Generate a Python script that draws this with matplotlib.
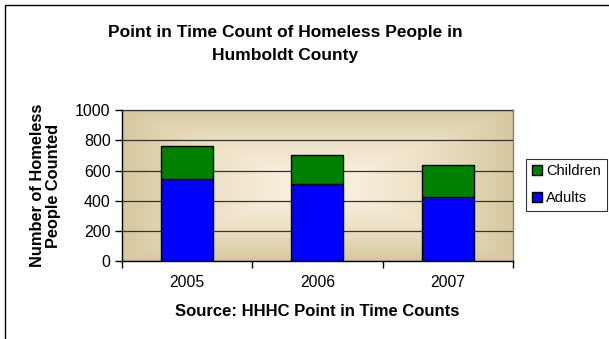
import numpy as np
import matplotlib
matplotlib.use("Agg")
import matplotlib.pyplot as plt
from matplotlib.patches import Rectangle

plt.rcParams['font.family'] = ['Liberation Sans', 'DejaVu Sans']

years = ["2005", "2006", "2007"]
adults = [546, 513, 427]
children = [218, 192, 209]

fig = plt.figure(figsize=(6.09, 3.39), dpi=100)

# outer frame of the chart area
fig.patches.append(Rectangle((5 / 609, -0.5), 2.0, 1.5 - 5 / 339,
                             transform=fig.transFigure, fill=False,
                             edgecolor='black', linewidth=1.0))

ax = fig.add_axes([0.1998, 0.2292, 0.6425, 0.4463])

# beige "from centre" gradient behind the plot
nx, ny = 200, 100
gx = np.linspace(-1, 1, nx)
gy = np.linspace(-1, 1, ny)
X, Y = np.meshgrid(gx, gy)
t = np.clip(np.maximum(np.abs(X) ** 1.6, np.abs(Y) ** 1.6), 0, 1)
c_in = np.array([250, 241, 222]) / 255
c_out = np.array([214, 199, 158]) / 255
img = c_in[None, None, :] * (1 - t[..., None]) + c_out[None, None, :] * t[..., None]
ax.imshow(img, extent=[-0.5, 2.5, 0, 1000], aspect='auto', zorder=0,
          interpolation='bilinear')

x = np.arange(len(years))
ax.bar(x, adults, width=0.4, color='#0000FF', edgecolor='black',
       linewidth=1.0, label='Adults', zorder=3)
ax.bar(x, children, width=0.4, bottom=adults, color='#008000',
       edgecolor='black', linewidth=1.0, label='Children', zorder=3)

ax.set_xlim(-0.5, 2.5)
ax.set_ylim(0, 1000)
ax.set_yticks(range(0, 1001, 200))
ax.yaxis.grid(True, color='#333333', linewidth=0.9, zorder=1)
ax.set_axisbelow(False)

ax.set_xticks([-0.5, 0.5, 1.5, 2.5])
ax.set_xticklabels([])
ax.set_xticks(x, minor=True)
ax.set_xticklabels(years, minor=True)
ax.tick_params(axis='x', which='minor', length=0, pad=10, labelsize=11.3)
ax.tick_params(axis='x', which='major', length=5, direction='out', width=1)
ax.tick_params(axis='y', length=5, direction='out', width=1, labelsize=11.5, pad=3)

for s in ['top', 'right']:
    ax.spines[s].set_color('#808080')
    ax.spines[s].set_linewidth(1.0)
for s in ['left', 'bottom']:
    ax.spines[s].set_color('black')
    ax.spines[s].set_linewidth(1.0)

ax.set_ylabel("Number of Homeless\nPeople Counted", fontsize=11.8,
              fontweight='bold', labelpad=10, linespacing=1.12)
ax.set_xlabel("Source: HHHC Point in Time Counts", fontsize=12,
              fontweight='bold', labelpad=10)

fig.text(285 / 609, 1 - 44 / 339,
         "Point in Time Count of Homeless People in\nHumboldt County",
         ha='center', va='center', fontsize=12.5, fontweight='bold',
         linespacing=1.6)

handles, labels = ax.get_legend_handles_labels()
leg = fig.legend(handles[::-1], labels[::-1], loc='upper left',
                 bbox_to_anchor=(526 / 609, 1 - 158.5 / 339),
                 fontsize=10.5, frameon=True, fancybox=False,
                 edgecolor='black', handlelength=0.7, handleheight=0.7,
                 handletextpad=0.3, borderpad=0.4, labelspacing=0.9,
                 borderaxespad=0)
leg.get_frame().set_linewidth(0.8)

fig.savefig("out.png", dpi=100)
